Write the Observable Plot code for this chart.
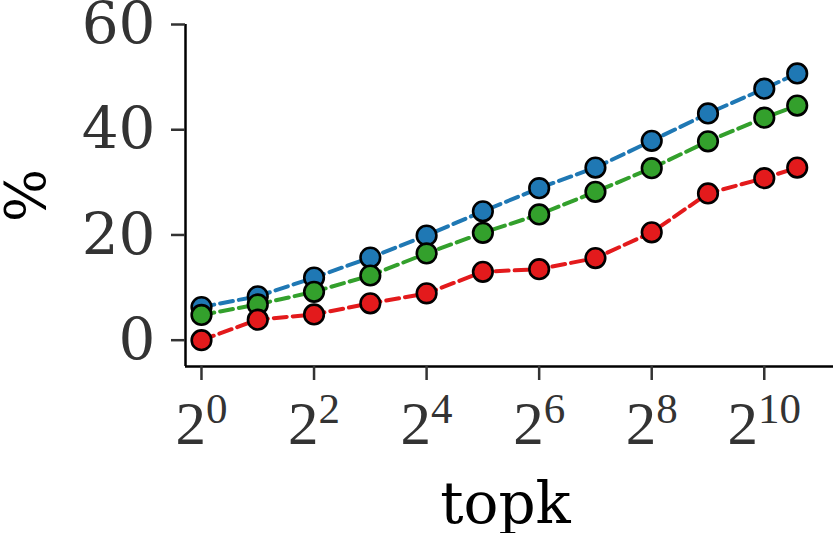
<!DOCTYPE html>
<html><head><meta charset="utf-8">
<script src="https://cdn.jsdelivr.net/npm/d3@7"></script>
<script src="https://cdn.jsdelivr.net/npm/@observablehq/plot@0.6"></script>
<style>body{margin:0;background:#fff} svg{display:block;background:#fff}</style>
</head><body><div id="chart"></div>
<script>
const topk = [1, 2, 4, 8, 16, 32, 64, 128, 256, 512, 1024, 1536];
const seriesBlue  = [6.3, 8.35, 11.9, 15.7, 19.9, 24.5, 28.9, 32.8, 37.9, 43.1, 47.8, 50.7];
const seriesGreen = [4.8, 6.8, 9.2, 12.3, 16.5, 20.4, 23.9, 28.2, 32.7, 37.8, 42.3, 44.6];
const seriesRed   = [0, 3.9, 4.9, 7.0, 8.9, 13.0, 13.5, 15.6, 20.5, 27.9, 30.8, 32.8];
const xTicks = [1, 4, 16, 64, 256, 1024];
const yTicks = [0, 20, 40, 60];
const xLabel = "topk";
const yLabel = "%";

const series = [
  {values: seriesBlue, color: "#1f78b4"},
  {values: seriesGreen, color: "#33a02c"},
  {values: seriesRed, color: "#e31a1c"}
];

const xMin = 2 ** -0.284, xMax = 2 ** 11.23;
const yMin = -5, yMax = 60;

const marks = [
  Plot.ruleX([xMin], {stroke: "black", strokeWidth: 2.5}),
  Plot.ruleY([yMin], {stroke: "black", strokeWidth: 2.5}),
  Plot.axisY({ticks: yTicks, tickSize: 14, tickPadding: 16, fontSize: 58, fontFamily: "DejaVu Serif",
    color: "#333", strokeWidth: 2.5, label: null, tickFormat: d => String(d)}),
  Plot.axisX({ticks: xTicks, tickSize: 14, tickPadding: 20, fontSize: 61, fontFamily: "Liberation Serif",
    color: "#333", strokeWidth: 2.5, label: null, tickFormat: d => "2^" + Math.round(Math.log2(d))})
];
for (const s of series) {
  const data = topk.map((k, i) => ({k, v: s.values[i]}));
  marks.push(Plot.line(data, {x: "k", y: "v", stroke: s.color, strokeWidth: 4, strokeDasharray: "13,6"}));
  marks.push(Plot.dot(data, {x: "k", y: "v", r: 9.8, fill: s.color, stroke: "black", strokeWidth: 2.6}));
}
marks.push(Plot.text([yLabel], {frameAnchor: "left", textAnchor: "middle", dx: -158, rotate: -90, lineAnchor: "middle",
  fontSize: 56, fontFamily: "DejaVu Serif", fill: "black"}));
marks.push(Plot.text([xLabel], {frameAnchor: "bottom", textAnchor: "middle", dx: -4, dy: 138, lineAnchor: "middle",
  fontSize: 58, fontFamily: "DejaVu Serif", fill: "black"}));

const svg = Plot.plot({
  width: 833, height: 533,
  marginLeft: 185, marginRight: 0, marginTop: 24, marginBottom: 167,
  style: {background: "#fff", overflow: "visible"},
  x: {type: "log", base: 2, domain: [xMin, xMax]},
  y: {domain: [yMin, yMax]},
  marks
});

d3.select(svg).selectAll('g[aria-label="x-axis tick label"] text').each(function() {
  const parts = this.textContent.split("^");
  const t = d3.select(this);
  t.text(parts[0]);
  t.append("tspan").attr("font-size", 43).attr("dy", -21).text(parts[1]);
});

document.getElementById("chart").appendChild(svg);
</script>
</body></html>
